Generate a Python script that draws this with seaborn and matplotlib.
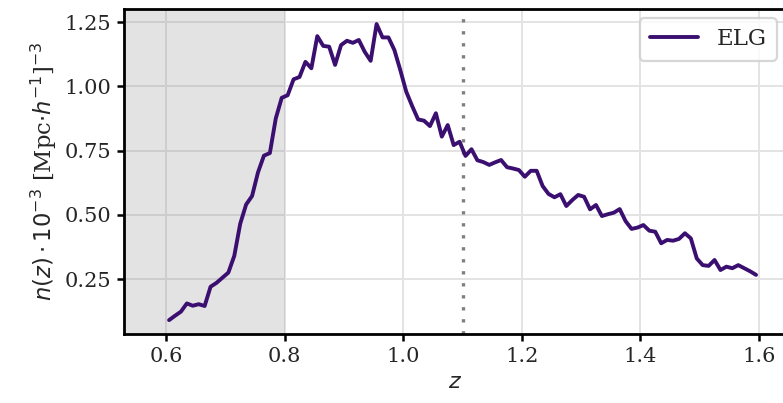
import numpy as np
import pandas as pd
import matplotlib
matplotlib.use("Agg")
import matplotlib.pyplot as plt
import seaborn as sns

# bin centres in redshift
z_lo, z_hi, n_bins = 0.605, 1.595, 100
z = np.linspace(z_lo, z_hi, n_bins)

# n(z) * 1e-3 values
nz = [
    0.090, 0.107, 0.123, 0.155, 0.146, 0.152, 0.145, 0.220, 0.235, 0.255,
    0.275, 0.340, 0.465, 0.540, 0.573, 0.665, 0.730, 0.740, 0.875, 0.955,
    0.965, 1.027, 1.036, 1.095, 1.070, 1.195, 1.157, 1.154, 1.083, 1.160,
    1.177, 1.169, 1.180, 1.134, 1.099, 1.242, 1.190, 1.190, 1.141, 1.063,
    0.979, 0.923, 0.871, 0.866, 0.845, 0.895, 0.804, 0.849, 0.771, 0.784,
    0.729, 0.755, 0.712, 0.705, 0.694, 0.704, 0.713, 0.685, 0.680, 0.674,
    0.648, 0.671, 0.671, 0.612, 0.581, 0.568, 0.580, 0.534, 0.557, 0.577,
    0.570, 0.521, 0.538, 0.495, 0.502, 0.508, 0.522, 0.475, 0.445, 0.450,
    0.460, 0.438, 0.434, 0.389, 0.402, 0.399, 0.406, 0.428, 0.408, 0.330,
    0.304, 0.301, 0.324, 0.285, 0.298, 0.292, 0.304, 0.292, 0.280, 0.266,
]
series_name = "ELG"
shade_lo, shade_hi = 0.529, 0.8
zcut = 1.1
xticks = [0.6, 0.8, 1.0, 1.2, 1.4, 1.6]
yticks = [0.25, 0.50, 0.75, 1.00, 1.25]

df = pd.DataFrame({"z": z, "nz": nz, "sample": series_name})

sns.set_theme(style="whitegrid")
plt.rcParams["font.family"] = ["DejaVu Serif"]
plt.rcParams["mathtext.fontset"] = "dejavusans"

W, H = 783, 403
fig = plt.figure(figsize=(W / 100, H / 100), dpi=100)
ax = fig.add_axes([124 / W, (H - 334) / H, (786 - 124) / W, (334 - 9) / H])

ax.axvspan(shade_lo, shade_hi, color="gray", alpha=0.22, lw=0, zorder=0.6)
sns.lineplot(data=df, x="z", y="nz", hue="sample", palette=["#3b0f70"],
             lw=2.8, ax=ax, zorder=3)
ax.axvline(zcut, color="#808080", lw=2.4, linestyle=(0, (1, 2.6)), zorder=2)

ax.set_xlim(0.529, 1.6455)
ax.set_ylim(0.036, 1.3006)
ax.set_xticks(xticks)
ax.set_yticks(yticks)
ax.set_xticklabels([f"{t:.1f}" for t in xticks])
ax.set_yticklabels([f"{t:.2f}" for t in yticks])

ax.grid(True, color="#e3e3e3", lw=1.4)
for s in ax.spines.values():
    s.set_color("black")
    s.set_linewidth(2.0)
ax.tick_params(axis="both", which="major", direction="out", length=5, width=1.8,
               color="black", labelsize=15, bottom=True, left=True, pad=4)

ax.set_xlabel("$z$", fontsize=16)
ax.set_ylabel(r"$n(z)\cdot10^{-3}$ [Mpc$\cdot h^{-1}$]$^{-3}$", fontsize=16.3)

leg = ax.legend(loc="upper right", fontsize=16.5, frameon=True, fancybox=True,
                borderaxespad=0.4, handlelength=2.1, borderpad=0.45)
leg.get_frame().set_edgecolor("#cccccc")
leg.get_frame().set_linewidth(1.6)
leg.set_title(None)

fig.savefig("out.png", dpi=100)
